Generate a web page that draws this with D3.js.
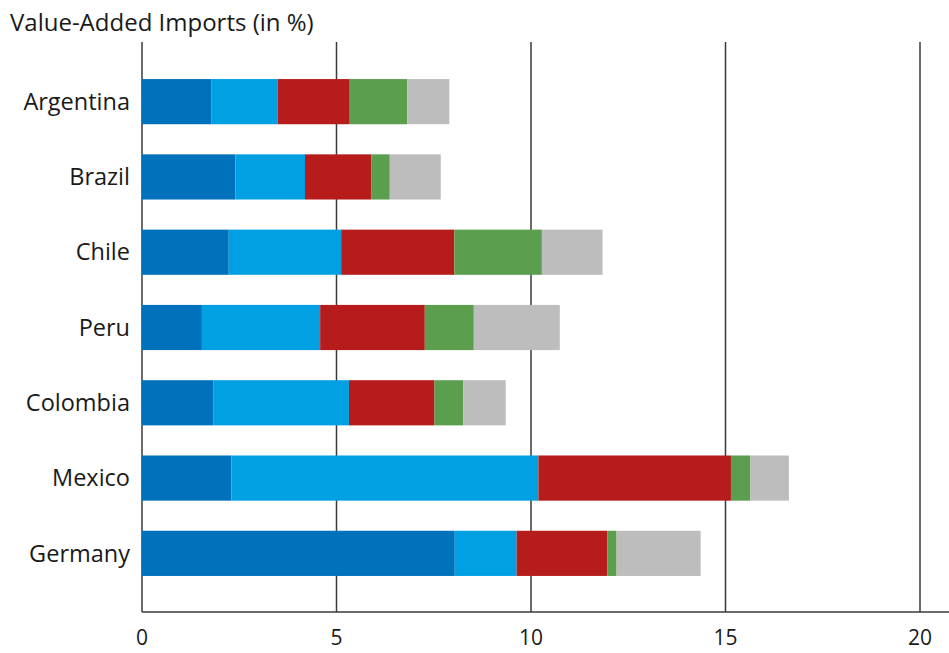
<!DOCTYPE html>
<html>
<head>
<meta charset="utf-8">
<script src="https://cdn.jsdelivr.net/npm/d3@7"></script>
<style>
  body { margin: 0; background: #fff; }
  text { font-family: "Open Sans", "Noto Sans", sans-serif; fill: #1a1a1a; }
</style>
</head>
<body>
<div id="chart"></div>
<script>
var countries = ['Argentina', 'Brazil', 'Chile', 'Peru', 'Colombia', 'Mexico', 'Germany'];
var seriesKeys = ['s1', 's2', 's3', 's4', 's5'];
var seriesColors = ['#0071bb', '#00a0e3', '#b71c1c', '#5a9e4e', '#bdbdbd'];
var s1 = [1.79, 2.40, 2.23, 1.54, 1.83, 2.30, 8.04];
var s2 = [1.70, 1.79, 2.89, 3.04, 3.49, 7.89, 1.59];
var s3 = [1.85, 1.71, 2.91, 2.69, 2.20, 4.95, 2.33];
var s4 = [1.48, 0.47, 2.25, 1.26, 0.74, 0.50, 0.24];
var s5 = [1.08, 1.31, 1.56, 2.21, 1.09, 0.99, 2.16];
var xTicks = [0, 5, 10, 15, 20];
var title = 'Value-Added Imports (in %)';

var width = 949, height = 653;
var plotLeft = 142, plotTop = 42, plotBottom = 612;

var rows = countries.map(function(c, i){
  return {country: c, s1: s1[i], s2: s2[i], s3: s3[i], s4: s4[i], s5: s5[i]};
});

var x = d3.scaleLinear().domain([0, 20]).range([plotLeft, plotLeft + 20 * 38.9]);
var y = d3.scaleBand().domain(countries).range([64, 591])
  .paddingInner(0.4).paddingOuter(0.2);

var svg = d3.select('#chart').append('svg')
  .attr('width', width)
  .attr('height', height);

svg.append('text')
  .attr('x', 10)
  .attr('y', 31)
  .attr('font-size', 24)
  .text(title);

// vertical gridlines
svg.selectAll('.grid').data(xTicks).enter().append('line')
  .attr('class', 'grid')
  .attr('x1', function(d){ return x(d); })
  .attr('x2', function(d){ return x(d); })
  .attr('y1', plotTop)
  .attr('y2', plotBottom)
  .attr('stroke', '#3a3a3a')
  .attr('stroke-width', 1.5);

var stacked = d3.stack().keys(seriesKeys)(rows);

svg.selectAll('.layer').data(stacked).enter().append('g')
  .attr('class', 'layer')
  .attr('fill', function(d, i){ return seriesColors[i]; })
  .selectAll('rect').data(function(d){ return d; }).enter().append('rect')
  .attr('x', function(d){ return x(d[0]); })
  .attr('width', function(d){ return x(d[1]) - x(d[0]); })
  .attr('y', function(d){ return y(d.data.country); })
  .attr('height', y.bandwidth());

// axes
svg.append('line')
  .attr('x1', plotLeft).attr('x2', width)
  .attr('y1', plotBottom).attr('y2', plotBottom)
  .attr('stroke', '#3a3a3a')
  .attr('stroke-width', 1.5);

svg.selectAll('.xlab').data(xTicks).enter().append('text')
  .attr('class', 'xlab')
  .attr('x', function(d){ return x(d); })
  .attr('y', 645)
  .attr('text-anchor', 'middle')
  .attr('font-size', 21)
  .text(function(d){ return d; });

svg.selectAll('.ylab').data(countries).enter().append('text')
  .attr('class', 'ylab')
  .attr('x', 130)
  .attr('y', function(d){ return y(d) + y.bandwidth() / 2; })
  .attr('dy', '0.35em')
  .attr('text-anchor', 'end')
  .attr('font-size', 23.5)
  .text(function(d){ return d; });
</script>
</body>
</html>
